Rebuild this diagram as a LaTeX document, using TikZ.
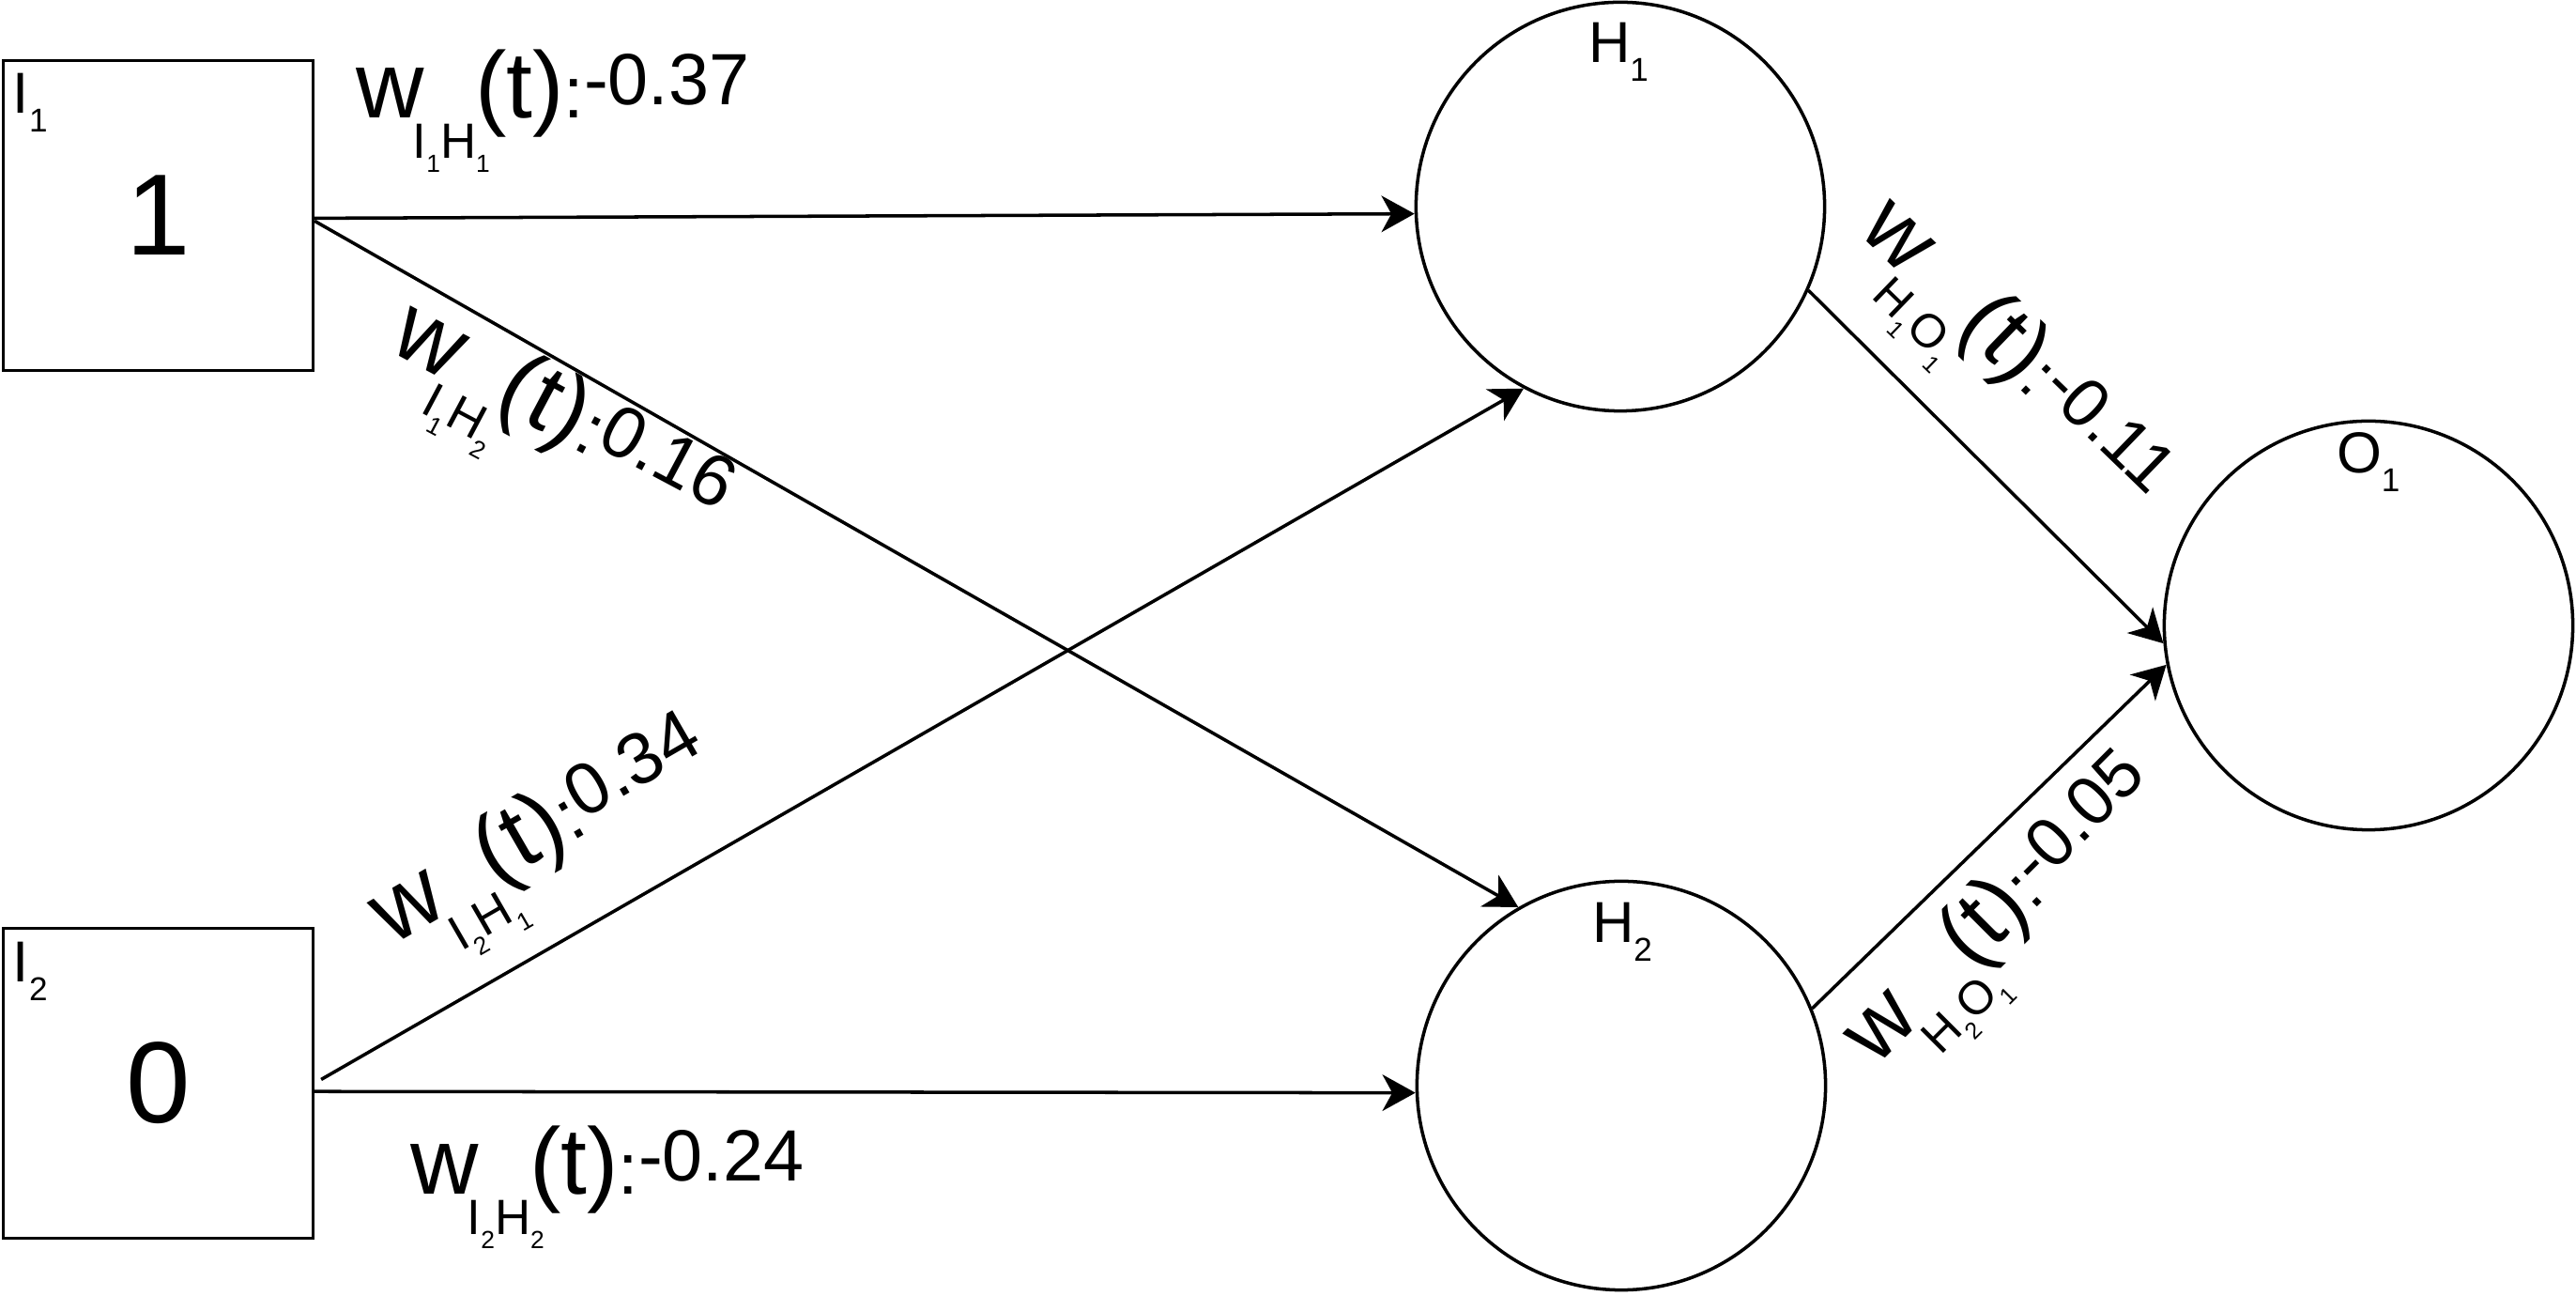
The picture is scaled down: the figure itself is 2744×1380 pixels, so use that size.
\documentclass[tikz,border=0pt]{standalone}
\usepackage{fontspec}
\setmainfont{Liberation Sans}
\usepackage{graphicx}
\usetikzlibrary{arrows.meta}
\newcommand{\wsz}[1]{\fontsize{#1}{#1}\selectfont}
\newcommand{\tinysub}[1]{\raisebox{-4.3pt}{\wsz{7.5}#1}}
% #1 letter, #2 index, #3 letter, #4 index, #5 value
\newcommand{\wlab}[5]{\wsz{28.5}w\kern-3.3pt\raisebox{-12pt}{\wsz{15}#1\tinysub{#2}#3\tinysub{#4}}\kern-4.5pt\wsz{28.5}(t)\wsz{22}:\raisebox{4pt}{#5}}
\newcommand{\nlab}[2]{\wsz{17.5}#1\raisebox{-5.5pt}{\wsz{10}#2}}
\begin{document}
\begin{tikzpicture}[x=0.01cm,y=-0.01cm,
  inbox/.style={draw,line width=1pt,minimum width=3.295cm,minimum height=3.295cm,inner sep=0pt,font=\wsz{35}},
  neuron/.style={draw,circle,line width=1pt,minimum size=4.35cm,inner sep=0pt},
  conn/.style={line width=1pt,-{Stealth[length=10pt,width=11pt,inset=3pt]}},
  txt/.style={inner sep=0pt,outer sep=0pt},
  wl/.style={inner sep=0pt,outer sep=0pt}]
\useasboundingbox (0,0) rectangle (2744,1380);
% input boxes
\node[inbox] (I1) at (168.5,229.5) {1};
\node[inbox] (I2) at (168.5,1153.5) {0};
\node[txt,anchor=base west] (I1lab) at (14,121) {\nlab{I}{1}};
\node[txt,anchor=base west] (I2lab) at (14,1046) {\nlab{I}{2}};
% neurons
\node[neuron] (H1) at (1726,220) {};
\node[neuron] (H2) at (1727,1156) {};
\node[neuron] (O1) at (2523,666) {};
\node[txt,anchor=base west] (H1lab) at (1692,67) {\nlab{H}{1}};
\node[txt,anchor=base west] (H2lab) at (1696,1004) {\nlab{H}{2}};
\node[txt,anchor=base west] (O1lab) at (2489,504) {\nlab{O}{1}};
% connectors
\draw[conn] (I1.-1.5) -- (H1.182);
\draw[conn] (I1.-2) -- (H2.120);
\draw[conn,shorten <=2.3pt] (I2.east) -- (H1.242);
\draw[conn] (I2.-3) -- (H2.182);
\draw[conn] (H1.-24) -- (O1.185);
\draw[conn] (H2.22) -- (O1.191);
% weight labels
\node[wl,anchor=base west] (L11) at (379,126) {\wlab{I}{1}{H}{1}{-0.37}};
\node[wl,rotate=-28] (L12) at (590,458) {\wlab{I}{1}{H}{2}{0.16}};
\node[wl,rotate=30] (L21) at (584,902) {\wlab{I}{2}{H}{1}{0.34}};
\node[wl,anchor=base west] (L22) at (437,1272) {\wlab{I}{2}{H}{2}{-0.24}};
\node[wl,rotate=-44] (L31) at (2134,388) {\scalebox{0.95}{\wlab{H}{1}{O}{1}{-0.11}}};
\node[wl,rotate=45] (L41) at (2143,982) {\scalebox{0.95}{\wlab{H}{2}{O}{1}{-0.05}}};
\end{tikzpicture}
\end{document}
